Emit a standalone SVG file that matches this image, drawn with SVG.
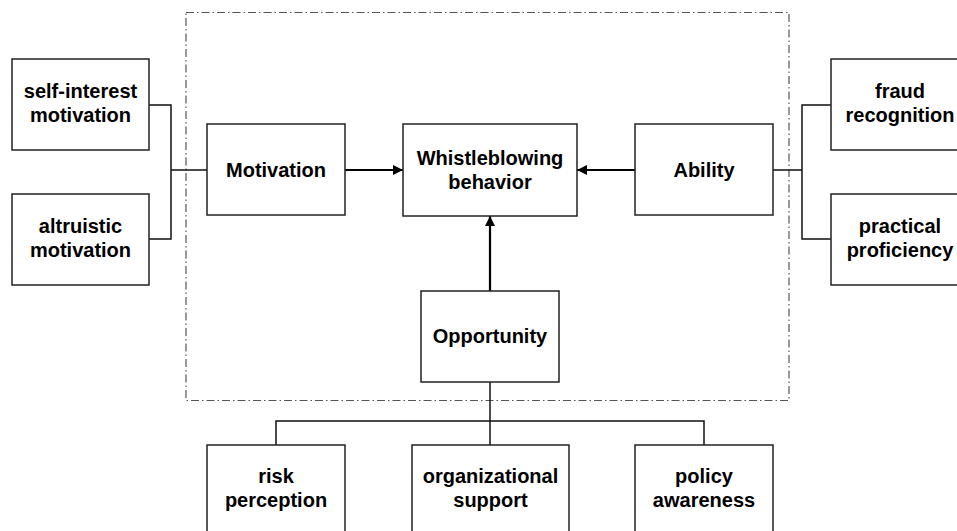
<svg xmlns="http://www.w3.org/2000/svg" width="957" height="531" viewBox="0 0 957 531">
<defs>
<marker id="ah" viewBox="0 0 10 10" refX="10" refY="5" markerWidth="10" markerHeight="11" markerUnits="userSpaceOnUse" orient="auto">
<path d="M0,0 L10,5 L0,10 z" fill="#000"/>
</marker>
<style>
.box{fill:#fff;stroke:#222;stroke-width:1.5}
.t{font-family:"Liberation Sans",Arial,sans-serif;font-weight:bold;font-size:20px;fill:#000;text-anchor:middle}
.c{fill:none;stroke:#111;stroke-width:1.5}
.a{fill:none;stroke:#000;stroke-width:2.2;marker-end:url(#ah)}
.frame{fill:none;stroke:#555;stroke-width:1.2;stroke-dasharray:8 3 1.5 3}
</style>
</defs>
<rect width="957" height="531" fill="#fff"/>
<rect class="frame" x="186" y="12.5" width="603" height="388"/>
<g id="connectors">
<polyline class="c" points="149,105 171,105 171,239 149,239"/>
<line class="c" x1="171" y1="170" x2="207" y2="170"/>
<polyline class="c" points="831,105 802,105 802,239 831,239"/>
<line class="c" x1="773" y1="170" x2="802" y2="170"/>
<line class="c" x1="490" y1="382" x2="490" y2="445"/>
<polyline class="c" points="276,445 276,421 704,421 704,445"/>
<line class="a" x1="345" y1="170" x2="403" y2="170"/>
<line class="a" x1="635" y1="170" x2="577" y2="170"/>
<line class="a" x1="490" y1="291" x2="490" y2="216"/>
</g>
<g id="self-interest">
<rect class="box" x="12" y="59" width="137" height="91"/>
<text class="t" x="80.5" y="98">self-interest</text>
<text class="t" x="80.5" y="122">motivation</text>
</g>
<g id="altruistic">
<rect class="box" x="12" y="194" width="137" height="91"/>
<text class="t" x="80.5" y="233">altruistic</text>
<text class="t" x="80.5" y="257">motivation</text>
</g>
<g id="motivation">
<rect class="box" x="207" y="124" width="138" height="91"/>
<text class="t" x="276" y="177">Motivation</text>
</g>
<g id="whistleblowing">
<rect class="box" x="403" y="124" width="174" height="92"/>
<text class="t" x="490" y="165">Whistleblowing</text>
<text class="t" x="490" y="189">behavior</text>
</g>
<g id="ability">
<rect class="box" x="635" y="124" width="138" height="91"/>
<text class="t" x="704" y="177">Ability</text>
</g>
<g id="fraud">
<rect class="box" x="831" y="59" width="138" height="91"/>
<text class="t" x="900" y="98">fraud</text>
<text class="t" x="900" y="122">recognition</text>
</g>
<g id="practical">
<rect class="box" x="831" y="194" width="138" height="91"/>
<text class="t" x="900" y="233">practical</text>
<text class="t" x="900" y="257">proficiency</text>
</g>
<g id="opportunity">
<rect class="box" x="421" y="291" width="138" height="91"/>
<text class="t" x="490" y="343">Opportunity</text>
</g>
<g id="risk">
<rect class="box" x="207" y="445" width="138" height="91"/>
<text class="t" x="276" y="483">risk</text>
<text class="t" x="276" y="507">perception</text>
</g>
<g id="organizational">
<rect class="box" x="412" y="445" width="157" height="91"/>
<text class="t" x="490.5" y="483">organizational</text>
<text class="t" x="490.5" y="507">support</text>
</g>
<g id="policy">
<rect class="box" x="635" y="445" width="138" height="91"/>
<text class="t" x="704" y="483">policy</text>
<text class="t" x="704" y="507">awareness</text>
</g>
</svg>
